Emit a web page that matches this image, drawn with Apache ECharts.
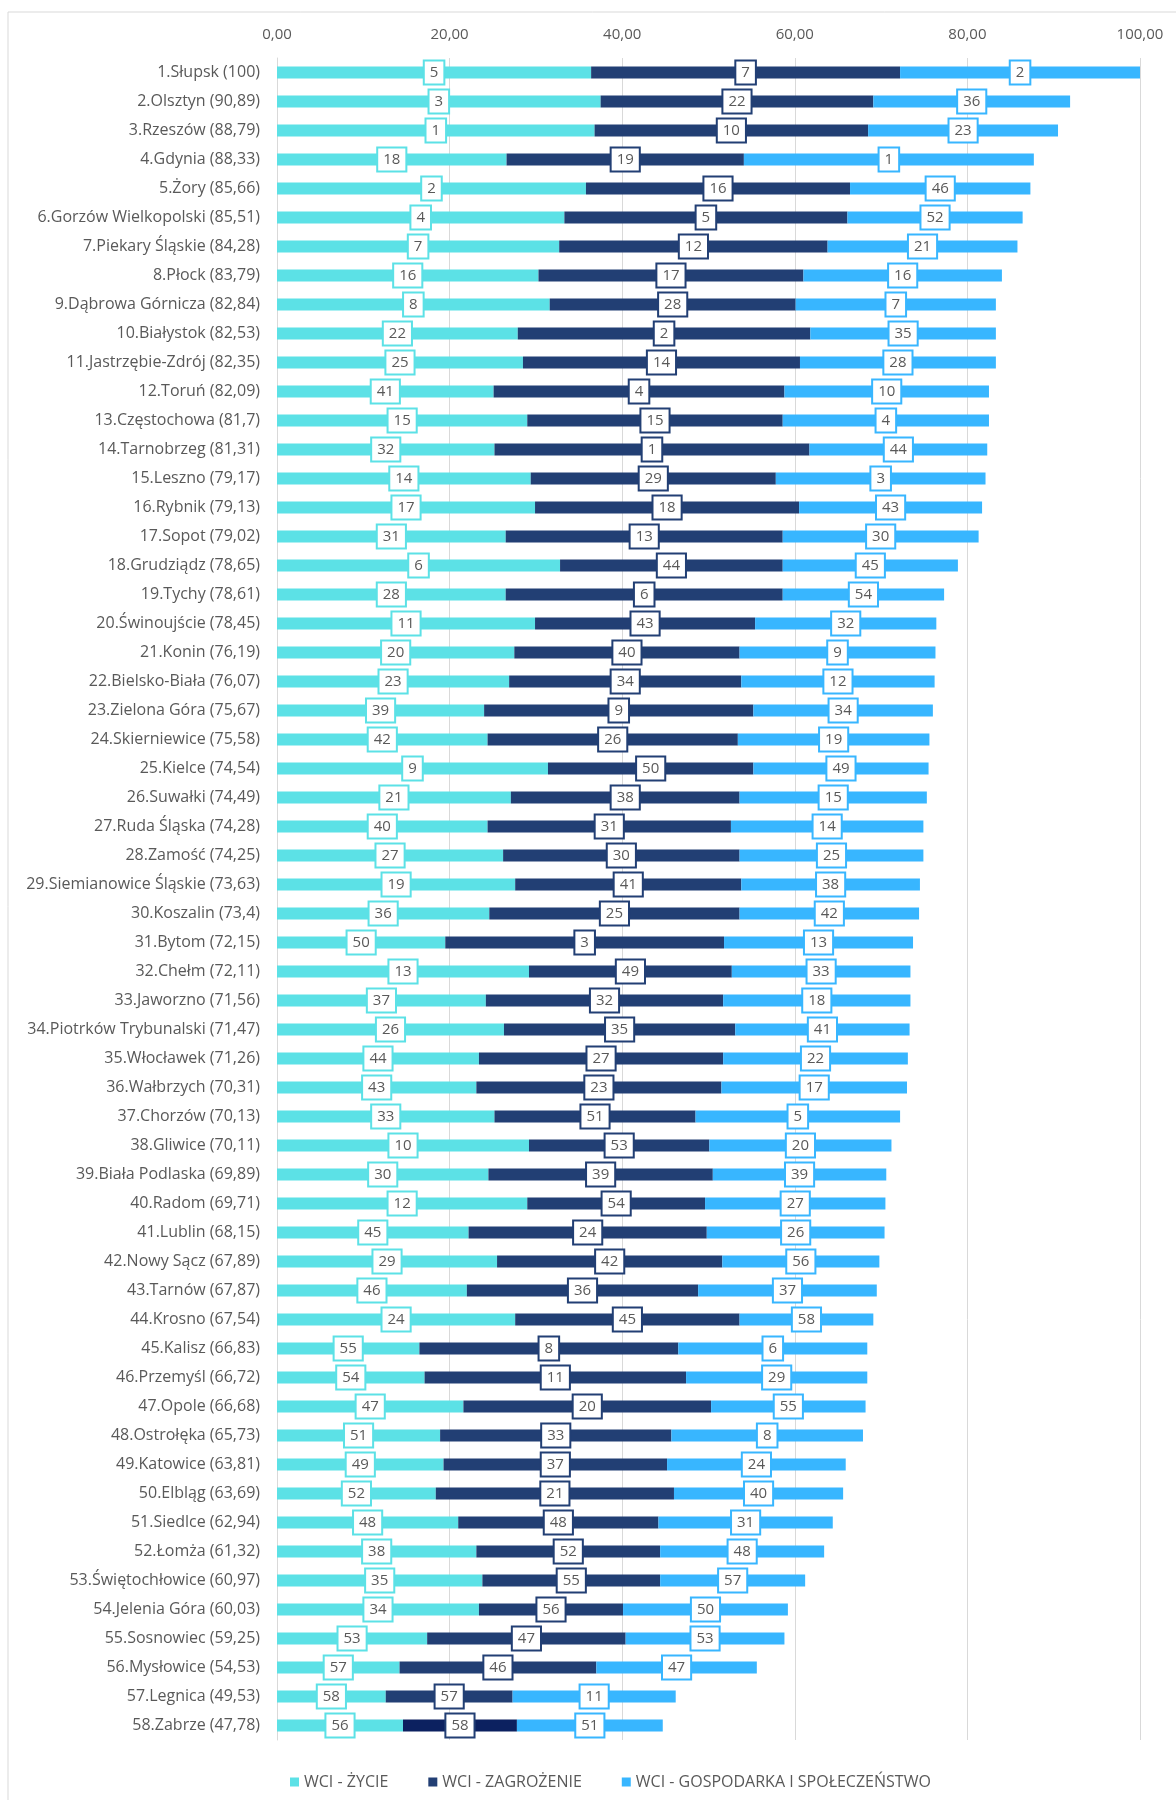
<!DOCTYPE html>
<html>
<head>
<meta charset="utf-8">
<script src="https://cdn.jsdelivr.net/npm/echarts@6/dist/echarts.min.js"></script>
<style>
  html, body { margin: 0; padding: 0; background: #fff; }
  #main { width: 1176px; height: 1800px; }
</style>
</head>
<body>
<div id="main"></div>
<script>
// miasta (kolejność z rankingu)
const cities = [
  '1.Słupsk (100)', '2.Olsztyn (90,89)', '3.Rzeszów (88,79)', '4.Gdynia (88,33)', '5.Żory (85,66)',
  '6.Gorzów Wielkopolski (85,51)', '7.Piekary Śląskie (84,28)', '8.Płock (83,79)', '9.Dąbrowa Górnicza (82,84)',
  '10.Białystok (82,53)', '11.Jastrzębie-Zdrój (82,35)', '12.Toruń (82,09)', '13.Częstochowa (81,7)',
  '14.Tarnobrzeg (81,31)', '15.Leszno (79,17)', '16.Rybnik (79,13)', '17.Sopot (79,02)', '18.Grudziądz (78,65)',
  '19.Tychy (78,61)', '20.Świnoujście (78,45)', '21.Konin (76,19)', '22.Bielsko-Biała (76,07)',
  '23.Zielona Góra (75,67)', '24.Skierniewice (75,58)', '25.Kielce (74,54)', '26.Suwałki (74,49)',
  '27.Ruda Śląska (74,28)', '28.Zamość (74,25)', '29.Siemianowice Śląskie (73,63)', '30.Koszalin (73,4)',
  '31.Bytom (72,15)', '32.Chełm (72,11)', '33.Jaworzno (71,56)', '34.Piotrków Trybunalski (71,47)',
  '35.Włocławek (71,26)', '36.Wałbrzych (70,31)', '37.Chorzów (70,13)', '38.Gliwice (70,11)',
  '39.Biała Podlaska (69,89)', '40.Radom (69,71)', '41.Lublin (68,15)', '42.Nowy Sącz (67,89)',
  '43.Tarnów (67,87)', '44.Krosno (67,54)', '45.Kalisz (66,83)', '46.Przemyśl (66,72)', '47.Opole (66,68)',
  '48.Ostrołęka (65,73)', '49.Katowice (63,81)', '50.Elbląg (63,69)', '51.Siedlce (62,94)', '52.Łomża (61,32)',
  '53.Świętochłowice (60,97)', '54.Jelenia Góra (60,03)', '55.Sosnowiec (59,25)', '56.Mysłowice (54,53)',
  '57.Legnica (49,53)', '58.Zabrze (47,78)'
];

// wartości
const zycie = [
  36.4, 37.5, 36.8, 26.6, 35.8, 33.3, 32.7, 30.3, 31.6, 27.9, 28.5, 25.1,
  29.0, 25.2, 29.4, 29.9, 26.5, 32.8, 26.5, 29.9, 27.5, 26.9, 24.0, 24.4,
  31.4, 27.1, 24.4, 26.2, 27.6, 24.6, 19.5, 29.2, 24.2, 26.3, 23.4, 23.1,
  25.2, 29.2, 24.5, 29.0, 22.2, 25.5, 22.0, 27.6, 16.5, 17.1, 21.6, 18.9,
  19.3, 18.4, 21.0, 23.1, 23.8, 23.4, 17.4, 14.2, 12.6, 14.6
];
const zagrozenie = [
  35.8, 31.6, 31.7, 27.5, 30.6, 32.8, 31.1, 30.7, 28.5, 33.9, 32.1, 33.7,
  29.6, 36.5, 28.4, 30.6, 32.1, 25.8, 32.1, 25.5, 26.1, 26.9, 31.2, 29.0,
  23.8, 26.5, 28.2, 27.4, 26.2, 29.0, 32.3, 23.5, 27.5, 26.8, 28.3, 28.4,
  23.3, 20.9, 26.0, 20.6, 27.6, 26.1, 26.8, 26.0, 30.0, 30.3, 28.7, 26.8,
  25.9, 27.6, 23.2, 21.3, 20.6, 16.7, 23.0, 22.8, 14.7, 13.2
];
const gospodarka = [
  27.8, 22.8, 22.0, 33.6, 20.9, 20.3, 22.0, 23.0, 23.2, 21.5, 22.7, 23.7,
  23.9, 20.6, 24.3, 21.2, 22.7, 20.3, 18.7, 21.0, 22.7, 22.4, 20.8, 22.2,
  20.3, 21.7, 22.3, 21.3, 20.7, 20.8, 21.9, 20.7, 21.7, 20.2, 21.4, 21.5,
  23.7, 21.1, 20.1, 20.9, 20.6, 18.2, 20.7, 15.5, 21.9, 21.0, 17.9, 22.2,
  20.7, 19.6, 20.2, 19.0, 16.8, 19.1, 18.4, 18.6, 18.9, 16.9
];

// miejsca w poszczególnych kategoriach (etykiety)
const rankZycie = [
  5, 3, 1, 18, 2, 4, 7, 16, 8, 22, 25, 41, 15, 32, 14, 17, 31, 6, 28, 11, 20, 23, 39, 42,
  9, 21, 40, 27, 19, 36, 50, 13, 37, 26, 44, 43, 33, 10, 30, 12, 45, 29, 46, 24, 55, 54,
  47, 51, 49, 52, 48, 38, 35, 34, 53, 57, 58, 56
];
const rankZagrozenie = [
  7, 22, 10, 19, 16, 5, 12, 17, 28, 2, 14, 4, 15, 1, 29, 18, 13, 44, 6, 43, 40, 34, 9, 26,
  50, 38, 31, 30, 41, 25, 3, 49, 32, 35, 27, 23, 51, 53, 39, 54, 24, 42, 36, 45, 8, 11,
  20, 33, 37, 21, 48, 52, 55, 56, 47, 46, 57, 58
];
const rankGospodarka = [
  2, 36, 23, 1, 46, 52, 21, 16, 7, 35, 28, 10, 4, 44, 3, 43, 30, 45, 54, 32, 9, 12, 34, 19,
  49, 15, 14, 25, 38, 42, 13, 33, 18, 41, 22, 17, 5, 20, 39, 27, 26, 56, 37, 58, 6, 29,
  55, 8, 24, 40, 31, 48, 57, 50, 53, 47, 11, 51
];

const seriesNames = ['WCI - ŻYCIE', 'WCI - ZAGROŻENIE', 'WCI - GOSPODARKA I SPOŁECZEŃSTWO'];
const colors = ['#5ce1e6', '#223f74', '#38b6ff'];

const font = "'Open Sans', 'Noto Sans', sans-serif";
const textGray = '#595959';

function makeSeries(idx, values, ranks) {
  let data = values;
  if (idx === 1) {
    // ostatni pasek (Zabrze) jest ciemniejszy
    data = values.map((v, i) => i === values.length - 1 ? { value: v, itemStyle: { color: '#0c2160' } } : v);
  }
  return {
    name: seriesNames[idx],
    type: 'bar',
    stack: 'wci',
    barWidth: 12,
    itemStyle: { color: colors[idx] },
    label: {
      show: true,
      position: 'inside',
      formatter: p => String(ranks[p.dataIndex]),
      color: textGray,
      fontFamily: font,
      fontSize: 15,
      backgroundColor: '#fff',
      borderColor: colors[idx],
      borderWidth: 2,
      padding: [4, 5, 3, 5]
    },
    emphasis: { disabled: true },
    data: data
  };
}

let myChart = echarts.init(document.getElementById('main'));
myChart.setOption({
  animation: false,
  color: colors,
  graphic: [{
    type: 'rect',
    shape: { x: 8, y: 12, width: 1200, height: 1800 },
    style: { fill: 'none', stroke: '#d9d9d9', lineWidth: 1 },
    silent: true
  }],
  grid: { left: 277, right: 36, top: 58, bottom: 60, containLabel: false },
  legend: {
    bottom: 5,
    left: 285,
    icon: 'rect',
    itemWidth: 9,
    itemHeight: 9,
    itemGap: 40,
    textStyle: { color: textGray, fontFamily: font, fontSize: 16 },
    data: seriesNames
  },
  xAxis: {
    type: 'value',
    position: 'top',
    min: 0,
    max: 100,
    interval: 20,
    axisLine: { show: false },
    axisTick: { show: false },
    splitLine: { lineStyle: { color: '#d9d9d9' } },
    axisLabel: {
      color: textGray,
      fontFamily: font,
      fontSize: 15,
      margin: 16,
      formatter: v => v.toFixed(2).replace('.', ',')
    }
  },
  yAxis: {
    type: 'category',
    inverse: true,
    data: cities,
    axisTick: { show: false },
    axisLine: { lineStyle: { color: '#d9d9d9' } },
    axisLabel: { color: textGray, fontFamily: font, fontSize: 16, margin: 17 }
  },
  series: [
    makeSeries(0, zycie, rankZycie),
    makeSeries(1, zagrozenie, rankZagrozenie),
    makeSeries(2, gospodarka, rankGospodarka)
  ]
});
</script>
</body>
</html>
